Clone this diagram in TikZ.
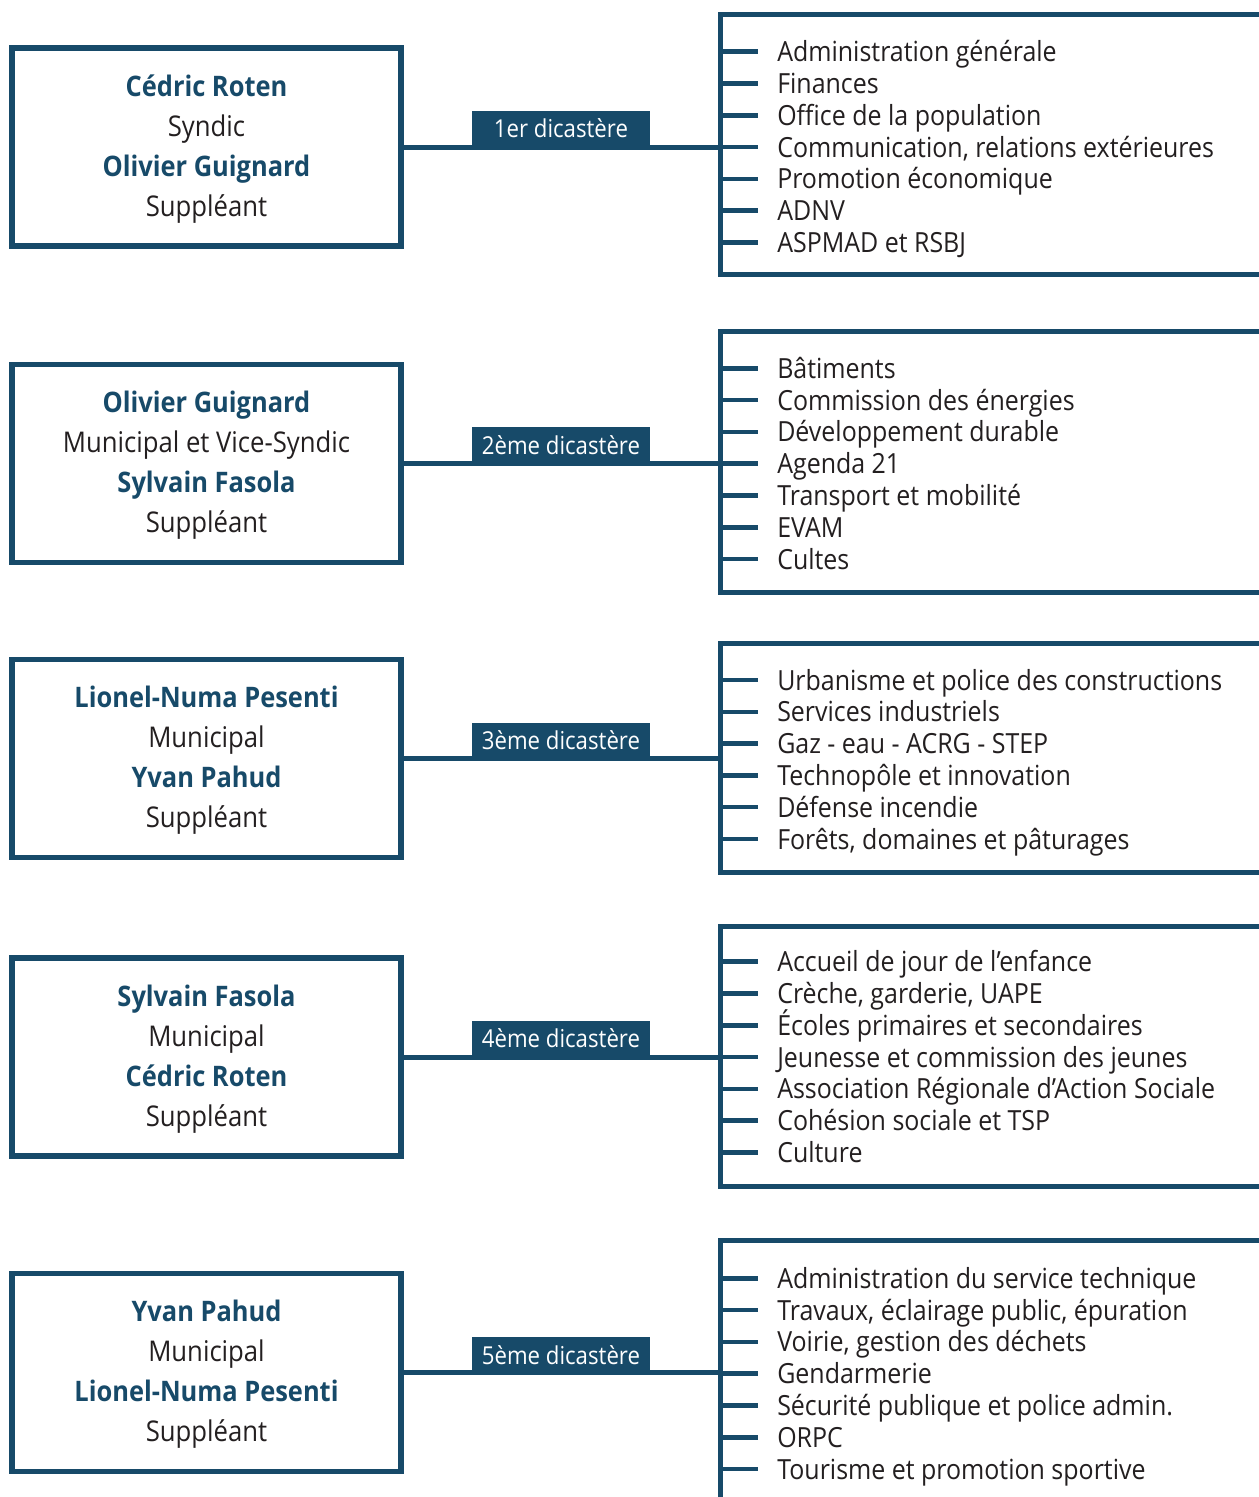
\documentclass[tikz,border=0pt]{standalone}
\usepackage{fontspec}
\setmainfont{Open Sans}[FakeStretch=0.9]
\usetikzlibrary{calc}
\definecolor{navy}{HTML}{174A69}
\definecolor{ink}{HTML}{231F20}
\newdimen\pxu \pxu=0.75pt
\tikzset{
  leftbox/.style={draw=navy,line width=5.5\pxu,minimum width=389\pxu,minimum height=198\pxu,inner sep=0pt,fill=white},
  pname/.style={anchor=base,inner sep=0pt,text=navy,font=\bfseries\fontsize{21.2}{24}\selectfont},
  prole/.style={anchor=base,inner sep=0pt,text=ink,font=\fontsize{21.4}{24}\selectfont},
  bracket/.style={draw=navy,line width=5\pxu,line join=miter},
  conn/.style={draw=navy,line width=5\pxu},
  tickline/.style={draw=navy,line width=4.5\pxu},
  tag/.style={anchor=south,fill=navy,text=white,minimum width=178\pxu,minimum height=37\pxu,inner sep=0pt,
    text height=13pt,text depth=0pt,font=\fontsize{18.5}{20}\selectfont},
  item/.style={anchor=west,inner sep=0pt,text=ink,text height=15pt,text depth=0pt,font=\fontsize{20.8}{24}\selectfont}
}
\newcommand\leftblock[5]{%
  \node[leftbox] (#1) at (206.5,#2) {};
  \node[pname] (#1a) at (206.5,#2-51) {#3};
  \node[prole] (#1b) at (206.5,#2-11) {#4};
  \node[pname] (#1c) at (206.5,#2+29) {#5};
  \node[prole] (#1d) at (206.5,#2+69) {Suppléant};
}
\begin{document}
\begin{tikzpicture}[x=0.75pt,y=-0.75pt]
\useasboundingbox[fill=white] (0,0) rectangle (1258,1497);

% ---------- Block 1
\leftblock{L1}{147}{Cédric Roten}{Syndic}{Olivier Guignard}
\coordinate (R1) at (720,147);
\draw[bracket] (1275,14) -| (720,274) -- (1275,274);
\draw[conn] (L1.east) -- (L1.east -| R1);
\node[tag] (T1) at (561,148) {1er dicastère};
\foreach \t [count=\k] in {Administration générale, Finances, Office de la population,
  {Communication, relations extérieures}, Promotion économique, ADNV, ASPMAD et RSBJ}{
  \node[item] (I1-\k) at (777,51.7+31.8*\k-31.8) {\t};
  \draw[tickline] (I1-\k.west) ++(-57,0) -- ++(38,0);
}

% ---------- Block 2
\leftblock{L2}{463.5}{Olivier Guignard}{Municipal et Vice-Syndic}{Sylvain Fasola}
\coordinate (R2) at (720,463.5);
\draw[bracket] (1275,331.5) -| (720,592) -- (1275,592);
\draw[conn] (L2.east) -- (L2.east -| R2);
\node[tag] (T2) at (561,464.5) {2ème dicastère};
\foreach \t [count=\k] in {Bâtiments, Commission des énergies, Développement durable, Agenda 21,
  Transport et mobilité, EVAM, Cultes}{
  \node[item] (I2-\k) at (777,368.3+31.8*\k-31.8) {\t};
  \draw[tickline] (I2-\k.west) ++(-57,0) -- ++(38,0);
}

% ---------- Block 3
\leftblock{L3}{758.5}{Lionel-Numa Pesenti}{Municipal}{Yvan Pahud}
\coordinate (R3) at (720,758.5);
\draw[bracket] (1275,643) -| (720,872) -- (1275,872);
\draw[conn] (L3.east) -- (L3.east -| R3);
\node[tag] (T3) at (561,760) {3ème dicastère};
\foreach \t [count=\k] in {Urbanisme et police des constructions, Services industriels,
  Gaz - eau - ACRG - STEP, Technopôle et innovation, Défense incendie,
  {Forêts, domaines et pâturages}}{
  \node[item] (I3-\k) at (777,680+31.8*\k-31.8) {\t};
  \draw[tickline] (I3-\k.west) ++(-57,0) -- ++(38,0);
}

% ---------- Block 4
\leftblock{L4}{1057}{Sylvain Fasola}{Municipal}{Cédric Roten}
\coordinate (R4) at (720,1057);
\draw[bracket] (1275,926) -| (720,1186) -- (1275,1186);
\draw[conn] (L4.east) -- (L4.east -| R4);
\node[tag] (T4) at (561,1058) {4ème dicastère};
\foreach \t [count=\k] in {Accueil de jour de l’enfance, {Crèche, garderie, UAPE},
  Écoles primaires et secondaires, Jeunesse et commission des jeunes,
  Association Régionale d’Action Sociale, Cohésion sociale et TSP, Culture}{
  \node[item] (I4-\k) at (777,961.7+31.8*\k-31.8) {\t};
  \draw[tickline] (I4-\k.west) ++(-57,0) -- ++(38,0);
}

% ---------- Block 5
\leftblock{L5}{1372.5}{Yvan Pahud}{Municipal}{Lionel-Numa Pesenti}
\coordinate (R5) at (720,1373.5);
\draw[bracket] (1275,1240) -| (720,1520);
\draw[conn] (L5.east) -- (L5.east -| R5);
\node[tag] (T5) at (561,1374.5) {5ème dicastère};
\foreach \t [count=\k] in {Administration du service technique,
  {Travaux, éclairage public, épuration}, {Voirie, gestion des déchets}, Gendarmerie,
  Sécurité publique et police admin., ORPC, Tourisme et promotion sportive}{
  \node[item] (I5-\k) at (777,1278.3+31.8*\k-31.8) {\t};
  \draw[tickline] (I5-\k.west) ++(-57,0) -- ++(38,0);
}
\end{tikzpicture}
\end{document}
